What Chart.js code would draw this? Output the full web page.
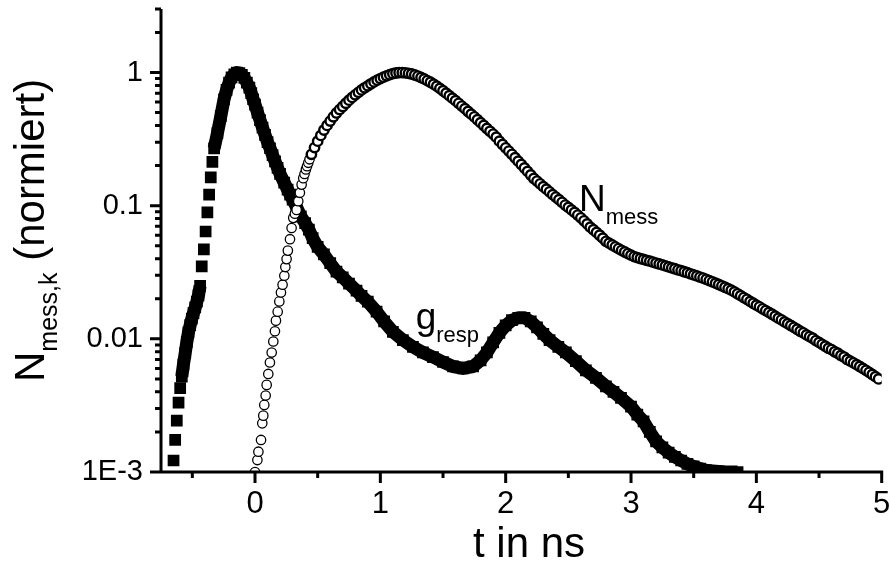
<!DOCTYPE html>
<html lang="de">
<head>
<meta charset="utf-8">
<title>N_mess und g_resp</title>
<script src="https://cdn.jsdelivr.net/npm/chart.js@4.4.1/dist/chart.umd.min.js"></script>
<style>
  html, body { margin: 0; padding: 0; background: #fff; }
  #wrap { position: relative; width: 890px; height: 562px; }
</style>
</head>
<body>
<div id="wrap"><canvas id="grafico"></canvas></div>
<script>
// --- datos ---
// g_resp (cuadrados llenos)
const tResp = [-0.650, -0.637, -0.624, -0.610, -0.597, -0.584, -0.571, -0.557, -0.544, -0.531,
  -0.517, -0.504, -0.491, -0.477, -0.464, -0.451, -0.438, -0.425, -0.408, -0.394,
  -0.380, -0.366, -0.353, -0.340, -0.326, -0.300, -0.273, -0.247, -0.227, -0.207,
  -0.187, -0.165, -0.145, -0.125, -0.105, -0.085, -0.065, -0.045, -0.030, -0.015,
  0.000, 0.020, 0.040, 0.060, 0.080, 0.100, 0.120, 0.140, 0.160, 0.180,
  0.200, 0.233, 0.260, 0.280, 0.300, 0.330, 0.366, 0.400, 0.430, 0.460,
  0.500, 0.550, 0.600, 0.650, 0.700, 0.750, 0.810, 0.850, 0.900, 0.970,
  1.030, 1.100, 1.180, 1.260, 1.340, 1.420, 1.500, 1.580, 1.660, 1.740,
  1.800, 1.850, 1.900, 1.950, 2.000, 2.050, 2.100, 2.150, 2.200, 2.250,
  2.300, 2.350, 2.420, 2.480, 2.560, 2.640, 2.720, 2.800, 2.860, 2.920,
  3.000, 3.050, 3.100, 3.150, 3.200, 3.250, 3.300, 3.350, 3.400, 3.450,
  3.500, 3.550, 3.600, 3.650, 3.700, 3.750, 3.800, 3.850];
const gResp = [0.00122, 0.00174, 0.00243, 0.00332, 0.00426, 0.0052, 0.0064, 0.0078, 0.0095, 0.0112,
  0.0127, 0.0142, 0.0156, 0.0172, 0.0190, 0.0212, 0.0250, 0.035, 0.047, 0.064,
  0.089, 0.121, 0.163, 0.213, 0.269, 0.35, 0.47, 0.63, 0.74, 0.84,
  0.92, 0.97, 1.00, 0.99, 0.96, 0.91, 0.84, 0.77, 0.70, 0.63,
  0.575, 0.50, 0.44, 0.385, 0.34, 0.30, 0.27, 0.24, 0.215, 0.192,
  0.173, 0.149, 0.132, 0.121, 0.111, 0.098, 0.083, 0.074, 0.066, 0.057,
  0.049, 0.043, 0.037, 0.032, 0.029, 0.026, 0.023, 0.021, 0.019, 0.016,
  0.0135, 0.0113, 0.0098, 0.0087, 0.0079, 0.0073, 0.0067, 0.0062, 0.0060, 0.0062,
  0.0069, 0.0079, 0.0094, 0.0111, 0.0126, 0.0138, 0.0144, 0.0144, 0.0135, 0.0122,
  0.0109, 0.0098, 0.0087, 0.0079, 0.0068, 0.0058, 0.0051, 0.0044, 0.0040, 0.0036,
  0.0031, 0.0027, 0.0024, 0.0020, 0.0017, 0.00153, 0.0014, 0.0013, 0.00122, 0.00115,
  0.0011, 0.00106, 0.00103, 0.00102, 0.00101, 0.0010, 0.0010, 0.0010];

// N_mess (circulos abiertos)
const tMess = [0.000, 0.019, 0.027, 0.048, 0.058, 0.066, 0.074, 0.085, 0.093, 0.106,
  0.119, 0.133, 0.146, 0.159, 0.167, 0.181, 0.194, 0.207, 0.220, 0.234,
  0.242, 0.252, 0.262, 0.279, 0.292, 0.305, 0.318, 0.332, 0.345, 0.358,
  0.372, 0.385, 0.395, 0.406, 0.415, 0.425, 0.435,
  0.450, 0.475, 0.500, 0.525, 0.550, 0.575, 0.600, 0.625, 0.650, 0.675,
  0.700, 0.725, 0.750, 0.775, 0.800, 0.825, 0.850, 0.875, 0.900, 0.925,
  0.950, 0.975, 1.000, 1.025, 1.050, 1.075, 1.100, 1.125, 1.150, 1.175,
  1.200, 1.225, 1.250, 1.275, 1.300, 1.325, 1.350, 1.375, 1.400, 1.425,
  1.450, 1.475, 1.500, 1.525, 1.550, 1.575, 1.600, 1.625, 1.650, 1.675,
  1.700, 1.725, 1.750, 1.775, 1.800, 1.825, 1.850, 1.875, 1.900, 1.925,
  1.950, 1.975, 2.000, 2.025, 2.050, 2.075, 2.100, 2.125, 2.150, 2.175,
  2.200, 2.225, 2.250, 2.275, 2.300, 2.325, 2.350, 2.375, 2.400, 2.425,
  2.450, 2.475, 2.500, 2.525, 2.550, 2.575, 2.600, 2.625, 2.650, 2.675,
  2.700, 2.725, 2.750, 2.775, 2.800, 2.825, 2.850, 2.875, 2.900, 2.925,
  2.950, 2.975, 3.000, 3.025, 3.050, 3.075, 3.100, 3.125, 3.150, 3.175,
  3.200, 3.225, 3.250, 3.275, 3.300, 3.325, 3.350, 3.375, 3.400, 3.425,
  3.450, 3.475, 3.500, 3.525, 3.550, 3.575, 3.600, 3.625, 3.650, 3.675,
  3.700, 3.725, 3.750, 3.775, 3.800, 3.825, 3.850, 3.875, 3.900, 3.925,
  3.950, 3.975, 4.000, 4.025, 4.050, 4.075, 4.100, 4.125, 4.150, 4.175,
  4.200, 4.225, 4.250, 4.275, 4.300, 4.325, 4.350, 4.375, 4.400, 4.425,
  4.450, 4.475, 4.500, 4.525, 4.550, 4.575, 4.600, 4.625, 4.650, 4.675,
  4.700, 4.725, 4.750, 4.775, 4.800, 4.825, 4.850, 4.875, 4.900, 4.925,
  4.950, 4.975];
const nMess = [0.00100, 0.00123, 0.00142, 0.00174, 0.00232, 0.00265, 0.00319, 0.00375, 0.00451, 0.00545,
  0.00664, 0.00789, 0.00955, 0.0114, 0.0137, 0.0160, 0.0191, 0.0223, 0.0255, 0.0298,
  0.0346, 0.0397, 0.0460, 0.0560, 0.0680, 0.0810, 0.0870, 0.0930, 0.108, 0.125,
  0.144, 0.161, 0.173, 0.187, 0.198, 0.210, 0.223,
  0.243, 0.273, 0.305, 0.337, 0.370, 0.401, 0.432, 0.465, 0.497, 0.527,
  0.556, 0.588, 0.620, 0.650, 0.680, 0.710, 0.740, 0.768, 0.795, 0.823,
  0.850, 0.876, 0.900, 0.923, 0.945, 0.964, 0.980, 0.992, 1.000, 0.999,
  0.995, 0.986, 0.975, 0.958, 0.940, 0.918, 0.895, 0.870, 0.845, 0.818,
  0.790, 0.760, 0.730, 0.700, 0.670, 0.642, 0.615, 0.587, 0.560, 0.535,
  0.510, 0.487, 0.465, 0.442, 0.420, 0.400, 0.380, 0.362, 0.345, 0.327,
  0.305, 0.288, 0.272, 0.257, 0.243, 0.229, 0.216, 0.204, 0.192, 0.181,
  0.170, 0.160, 0.153, 0.146, 0.139, 0.133, 0.127, 0.121, 0.116, 0.111,
  0.106, 0.101, 0.097, 0.093, 0.089, 0.085, 0.081, 0.077, 0.073, 0.069,
  0.066, 0.063, 0.060, 0.057, 0.054, 0.0523, 0.0507, 0.0491, 0.0476, 0.0462,
  0.0449, 0.0437, 0.0425, 0.0415, 0.0408, 0.0401, 0.0395, 0.0389, 0.0383, 0.0377,
  0.0371, 0.0365, 0.0359, 0.0353, 0.0347, 0.0341, 0.0336, 0.0330, 0.0325, 0.0319,
  0.0314, 0.0308, 0.0302, 0.0297, 0.0291, 0.0286, 0.0280, 0.0274, 0.0268, 0.0262,
  0.0256, 0.0250, 0.0244, 0.0238, 0.0232, 0.0225, 0.0218, 0.0211, 0.0204, 0.0198,
  0.0191, 0.0185, 0.0179, 0.0174, 0.0168, 0.0163, 0.0158, 0.0153, 0.0148, 0.0143,
  0.0139, 0.0134, 0.0130, 0.0126, 0.0122, 0.0118, 0.0114, 0.0111, 0.0107, 0.0104,
  0.0101, 0.0097, 0.0094, 0.0091, 0.0088, 0.0085, 0.0083, 0.0080, 0.0078, 0.0075,
  0.0073, 0.0070, 0.0068, 0.0066, 0.0064, 0.0062, 0.0060, 0.0058, 0.0056, 0.0054,
  0.0052, 0.0050];

// marcas de los ejes
const xMajor = [0, 1, 2, 3, 4, 5];
const xMinor = [-0.5, 0.5, 1.5, 2.5, 3.5, 4.5];
const yMajor = [0.001, 0.01, 0.1, 1];
const yMajorLabels = ['1E-3', '0.01', '0.1', '1'];
const yMinorFactors = [2, 3, 4, 5, 6, 7, 8, 9];

const FUENTE = '"Liberation Sans", Arial, Helvetica, sans-serif';

function puntos(ts, vs) {
  return ts.map((t, i) => ({ x: t, y: vs[i] }));
}

// ejes con marcas mayores y menores, encima de los datos
const ejesPlugin = {
  id: 'ejes',
  afterDatasetsDraw(chart) {
    const { ctx, chartArea: a, scales: { x, y } } = chart;
    ctx.save();
    ctx.strokeStyle = '#000';
    ctx.lineWidth = 3;
    ctx.beginPath();
    ctx.moveTo(a.left, a.top);
    ctx.lineTo(a.left, a.bottom + 1.5);
    ctx.moveTo(a.left - 1.5, a.bottom);
    ctx.lineTo(a.right + 1.5, a.bottom);
    xMajor.forEach(v => {
      const px = x.getPixelForValue(v);
      ctx.moveTo(px, a.bottom);
      ctx.lineTo(px, a.bottom + 11);
    });
    xMinor.forEach(v => {
      const px = x.getPixelForValue(v);
      ctx.moveTo(px, a.bottom);
      ctx.lineTo(px, a.bottom + 6);
    });
    yMajor.forEach(v => {
      const py = y.getPixelForValue(v);
      ctx.moveTo(a.left, py);
      ctx.lineTo(a.left - 11, py);
    });
    yMajor.forEach(d => {
      yMinorFactors.forEach(f => {
        const v = d * f;
        if (v > y.max) return;
        const py = y.getPixelForValue(v);
        ctx.moveTo(a.left, py);
        ctx.lineTo(a.left - 6, py);
      });
    });
    ctx.stroke();
    ctx.restore();
  }
};

// textos: titulos de ejes y nombres de las curvas (con subindice)
const etiquetas = [
  { main: 'g', sub: 'resp', t: 1.282, v: 0.0119 },
  { main: 'N', sub: 'mess', t: 2.585, v: 0.0906 }
];

function textoConSub(ctx, x, y, main, sub, sizeMain, sizeSub, dy, resto) {
  ctx.font = sizeMain + 'px ' + FUENTE;
  ctx.fillText(main, x, y);
  let xx = x + ctx.measureText(main).width;
  ctx.font = sizeSub + 'px ' + FUENTE;
  ctx.fillText(sub, xx, y + dy);
  xx += ctx.measureText(sub).width;
  if (resto) {
    ctx.font = sizeMain + 'px ' + FUENTE;
    ctx.fillText(resto, xx, y);
  }
}

const textosPlugin = {
  id: 'textos',
  afterDraw(chart) {
    const { ctx, scales: { x, y } } = chart;
    ctx.save();
    ctx.fillStyle = '#000';
    ctx.textBaseline = 'alphabetic';
    ctx.textAlign = 'left';
    etiquetas.forEach(e => {
      textoConSub(ctx, x.getPixelForValue(e.t), y.getPixelForValue(e.v), e.main, e.sub, 37, 22, 13);
    });
    // titulo eje x
    ctx.font = '42px ' + FUENTE;
    ctx.fillText('t in ns', 473, 557);
    // titulo eje y (girado)
    ctx.translate(44, 382);
    ctx.rotate(-Math.PI / 2);
    textoConSub(ctx, 0, 0, 'N', 'mess,k', 42, 25, 13, ' (normiert)');
    ctx.restore();
  }
};

function crearGrafico() {
  const ctx = document.getElementById('grafico');
  new Chart(ctx, {
    type: 'scatter',
    data: {
      datasets: [
        {
          label: 'N_mess',
          data: puntos(tMess, nMess),
          order: 0,
          showLine: false,
          pointStyle: 'circle',
          pointRadius: 4.7,
          pointHoverRadius: 4.7,
          // donde los circulos se solapan mucho el trazo se ve mas oscuro
          pointBorderWidth: c => (c.raw && c.raw.x >= 0.44 ? 2.4 : 1.3),
          pointBorderColor: '#000',
          pointBackgroundColor: '#fff',
          clip: 0
        },
        {
          label: 'g_resp',
          data: puntos(tResp, gResp),
          order: 1,
          showLine: true,
          borderColor: '#000',
          borderWidth: 13,
          borderJoinStyle: 'round',
          segment: {
            // solo los cuadrados sueltos no van unidos
            borderColor: c => {
              const t0 = c.p0.parsed.x;
              return (t0 < -0.59 || (t0 >= -0.44 && t0 < -0.33)) ? 'rgba(0,0,0,0)' : '#000';
            }
          },
          pointStyle: 'rect',
          pointRadius: 8.3,
          pointHoverRadius: 8.3,
          pointBorderWidth: 0,
          pointBackgroundColor: '#000',
          clip: 0
        }
      ]
    },
    options: {
      responsive: true,
      maintainAspectRatio: false,
      animation: false,
      events: [],
      layout: { padding: { top: 9, right: 7, left: 0, bottom: 0 } },
      plugins: {
        legend: { display: false },
        tooltip: { enabled: false },
        title: { display: false }
      },
      scales: {
        x: {
          type: 'linear',
          min: -0.75,
          max: 5,
          grid: { display: false, drawTicks: false },
          border: { display: false },
          afterBuildTicks: s => { s.ticks = xMajor.map(v => ({ value: v })); },
          afterFit: s => { s.height = 90; s.paddingLeft = 0; s.paddingRight = 0; },
          ticks: {
            autoSkip: false,
            maxRotation: 0,
            padding: 14,
            color: '#000',
            font: { family: FUENTE, size: 31 },
            callback: v => String(v)
          }
        },
        y: {
          type: 'logarithmic',
          min: 0.001,
          max: 3,
          grid: { display: false, drawTicks: false },
          border: { display: false },
          afterBuildTicks: s => { s.ticks = yMajor.map(v => ({ value: v })); },
          afterFit: s => { s.width = 161; s.paddingTop = 0; s.paddingBottom = 0; },
          ticks: {
            autoSkip: false,
            padding: 18,
            color: '#000',
            font: { family: FUENTE, size: 29 },
            callback: v => {
              const i = yMajor.indexOf(v);
              return i >= 0 ? yMajorLabels[i] : '';
            }
          }
        }
      }
    },
    plugins: [ejesPlugin, textosPlugin]
  });
}

crearGrafico();
</script>
</body>
</html>
